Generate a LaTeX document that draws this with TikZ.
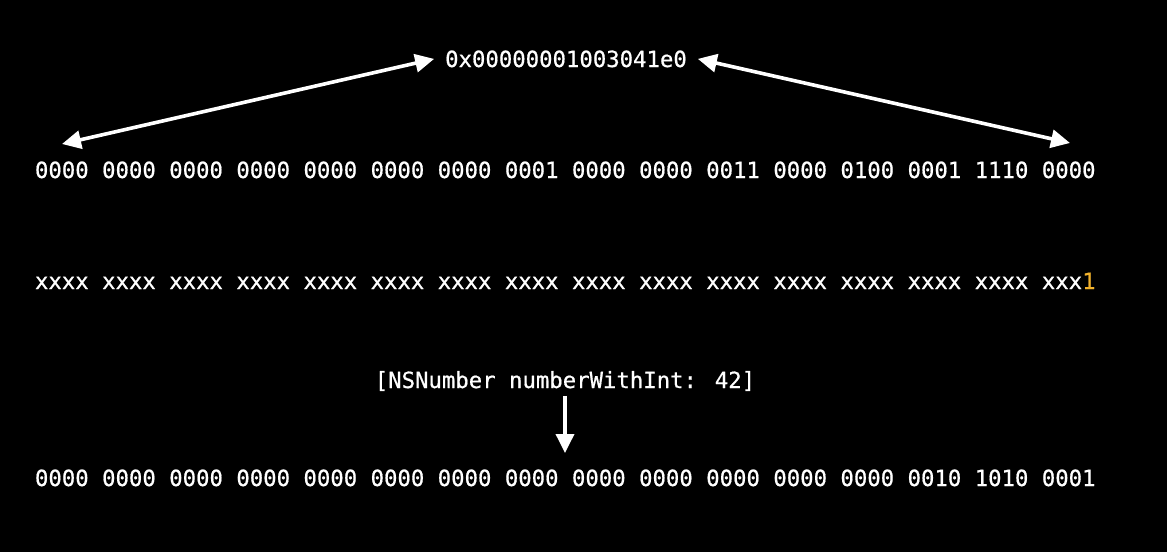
\documentclass[tikz,border=0pt]{standalone}
\usepackage{fontspec}
\newfontfamily\codefont[FakeBold=0.7]{DejaVu Sans Mono}
\usetikzlibrary{arrows.meta}
\definecolor{accent}{RGB}{242,178,44}
\tikzset{
  codetext/.style={inner sep=0pt, outer sep=0pt, text=white, font=\codefont\fontsize{22.3}{26}\selectfont},
  biarrow/.style={white, line width=3.6pt, {Triangle[length=19pt,width=18pt]}-{Triangle[length=19pt,width=18pt]}},
  downarrow/.style={white, line width=3.6pt, -{Triangle[length=19pt,width=18pt]}}
}
\begin{document}
\begin{tikzpicture}[x=1pt,y=-1pt]
\fill[black] (0,0) rectangle (1167,552);
\useasboundingbox (0,0) rectangle (1167,552);
\node[codetext, anchor=base, outer sep=11pt] (addr) at (566,67) {0x00000001003041e0};
\node[codetext, anchor=base west] (r1) at (35,178) {0000 0000 0000 0000 0000 0000 0000 0001 0000 0000 0011 0000 0100 0001 1110 0000};
\node[codetext, anchor=base west] (r2) at (35,289) {xxxx xxxx xxxx xxxx xxxx xxxx xxxx xxxx xxxx xxxx xxxx xxxx xxxx xxxx xxxx xxx\textcolor{accent}{1}};
\node[codetext, anchor=base, outer sep=5pt] (nsn) at (565,388) {[NSNumber numberWithInt: 42]};
\node[codetext, anchor=base west] (r3) at (35,486) {0000 0000 0000 0000 0000 0000 0000 0000 0000 0000 0000 0000 0000 0010 1010 0001};
\coordinate (lefttip) at (62,144);
\coordinate (righttip) at (1070,143);
\coordinate (downtip) at (565,453);
\draw[biarrow] (lefttip) -- (addr.west);
\draw[biarrow] (addr.east) -- (righttip);
\draw[downarrow] (nsn.south) -- (downtip);
\end{tikzpicture}
\end{document}
